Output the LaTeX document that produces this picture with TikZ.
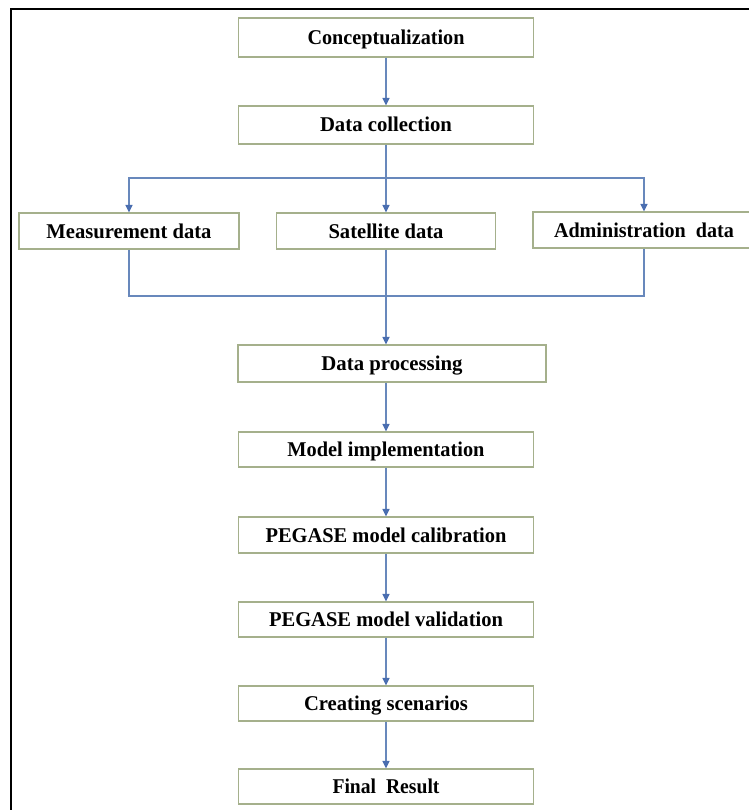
\documentclass[tikz,border=0pt]{standalone}
\usepackage{fontspec}
\setmainfont{Liberation Serif}
\usetikzlibrary{arrows.meta}
\definecolor{boxc}{RGB}{165,176,140}
\definecolor{linec}{RGB}{104,136,188}
\definecolor{tipc}{RGB}{74,110,176}
\newcommand{\fw}[2]{\resizebox{#1pt}{\height}{#2}}
\begin{document}
\begin{tikzpicture}[x=1pt,y=-1pt,
 box/.style={draw=boxc,line width=1.2pt,fill=white,minimum width=295pt,minimum height=36pt,inner sep=0pt,
   text height=14pt,text depth=0pt,font=\bfseries\fontsize{21}{22}\selectfont},
 conn/.style={draw=linec,line width=1.3pt},
 arr/.style={conn,-{Triangle[length=7.5pt,width=7pt,color=tipc]}}]
\useasboundingbox (0,0) rectangle (748,810);
\draw[line width=2.4pt] (11,811) -- (11,9) -- (749,9);

\node[box,minimum height=39pt] (concept) at (386,37.5) {\fw{157}{Conceptualization}};
\node[box,minimum height=38pt] (collect) at (386,125) {\fw{132}{Data collection}};
\node[box,minimum width=220pt] (meas) at (129,231) {\fw{165}{Measurement data}};
\node[box,minimum width=219pt] (sat) at (386,231) {\fw{115}{Satellite data}};
\node[box,minimum width=222pt] (admin) at (644,230) {\fw{180}{Administration\ \ data}};
\node[box,minimum width=308pt,minimum height=37pt] (proc) at (392,363.5) {\fw{141}{Data processing}};
\node[box,minimum height=35pt] (model) at (386,449.5) {\fw{197}{Model implementation}};
\node[box] (calib) at (386,535) {\fw{241}{PEGASE model calibration}};
\node[box,minimum height=35pt] (valid) at (386,619.5) {\fw{234}{PEGASE model validation}};
\node[box,minimum height=35pt] (scen) at (386,703.5) {\fw{164}{Creating scenarios}};
\node[box,minimum height=35pt] (final) at (386,786.5) {\fw{107}{Final\ \ Result}};

\coordinate (split) at (386,178);
\coordinate (merge) at (386,296);

\draw[arr] (concept) -- (collect);
\draw[conn] (collect.south) -- (split);
\draw[arr] (split) -| (meas.north);
\draw[arr] (split) -- (sat.north);
\draw[arr] (split) -| (admin.north);

\draw[conn] (meas.south) |- (merge);
\draw[conn] (admin.south) |- (merge);
\draw[conn] (sat.south) -- (merge);
\draw[arr,line width=1.6pt] (merge) -- (merge |- proc.north);

\draw[arr] (model.north |- proc.south) -- (model.north);
\draw[arr] (model) -- (calib);
\draw[arr] (calib) -- (valid);
\draw[arr] (valid) -- (scen);
\draw[arr] (scen) -- (final);
\end{tikzpicture}
\end{document}
